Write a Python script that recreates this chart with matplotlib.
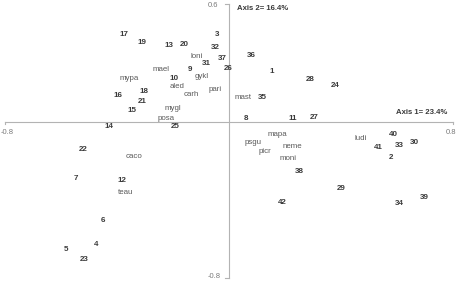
import matplotlib

matplotlib.use("Agg")
import matplotlib.pyplot as plt

# Site scores (numbered sampling sites)
site_labels = ["1", "2", "3", "4", "5", "6", "7", "8", "9", "10",
               "11", "12", "13", "14", "15", "16", "17", "18", "19", "20",
               "21", "22", "23", "24", "25", "26", "27", "28", "29", "30",
               "31", "32", "33", "34", "35", "36", "37", "38", "39", "40",
               "41", "42"]
site_x = [0.154, 0.579, -0.043, -0.475, -0.582, -0.450, -0.546, 0.061, -0.139, -0.196,
          0.229, -0.382, -0.214, -0.428, -0.346, -0.396, -0.375, -0.304, -0.311, -0.161,
          -0.311, -0.521, -0.518, 0.379, -0.193, -0.004, 0.304, 0.289, 0.400, 0.661,
          -0.082, -0.050, 0.607, 0.607, 0.118, 0.079, -0.025, 0.250, 0.696, 0.586,
          0.532, 0.189]
site_y = [0.259, -0.187, 0.444, -0.628, -0.654, -0.505, -0.290, 0.013, 0.269, 0.223,
          0.013, -0.300, 0.392, -0.028, 0.054, 0.131, 0.444, 0.156, 0.403, 0.397,
          0.105, -0.146, -0.705, 0.187, -0.028, 0.274, 0.023, 0.213, -0.341, -0.105,
          0.295, 0.377, -0.121, -0.418, 0.121, 0.336, 0.321, -0.254, -0.387, -0.069,
          -0.131, -0.413]

# Species scores
species_labels = ["mypa", "mael", "loni", "gykl", "aled", "pari", "carh", "mygl", "posa",
                  "mast", "mapa", "psgu", "neme", "picr", "moni", "ludi", "caco", "teau"]
species_x = [-0.357, -0.243, -0.114, -0.096, -0.186, -0.050, -0.136, -0.200, -0.225,
             0.050, 0.171, 0.086, 0.225, 0.129, 0.211, 0.471, -0.339, -0.371]
species_y = [0.218, 0.269, 0.331, 0.233, 0.177, 0.162, 0.141, 0.069, 0.018,
             0.121, -0.064, -0.110, -0.126, -0.156, -0.192, -0.085, -0.177, -0.362]

AXIS = "#b3b3b3"
TICK = "#7a7a7a"
SITE = "#3a3a3a"
SPEC = "#5a5a5a"

plt.rcParams["font.family"] = ["Liberation Sans", "DejaVu Sans"]

fig = plt.figure(figsize=(4.6, 2.92), dpi=100)
ax = fig.add_axes([0, 0, 1, 1])
ax.set_xlim(-0.818, 0.825)
ax.set_ylim(-0.874, 0.623)
ax.axis("off")

# axis lines with small end ticks
ax.plot([-0.8, 0.8], [0, 0], color=AXIS, lw=0.8)
ax.plot([0, 0], [-0.8, 0.6], color=AXIS, lw=0.8)
ax.plot([-0.8, -0.8], [0, -0.015], color=AXIS, lw=0.8)
ax.plot([0.8, 0.8], [0, -0.015], color=AXIS, lw=0.8)
ax.plot([0, -0.014], [0.6, 0.6], color=AXIS, lw=0.8)
ax.plot([0, -0.014], [-0.8, -0.8], color=AXIS, lw=0.8)

ax.text(-0.057, 0.595, "0.6", fontsize=5.5, color=TICK, ha="center", va="center")
ax.text(-0.054, -0.797, "-0.8", fontsize=5.5, color=TICK, ha="center", va="center")
ax.text(0.793, -0.054, "0.8", fontsize=5.5, color=TICK, ha="center", va="center")
ax.text(-0.816, -0.054, "-0.8", fontsize=5.5, color=TICK, ha="left", va="center")

ax.text(0.029, 0.577, "Axis 2= 16.4%", fontsize=5.6, color=SITE, weight="bold",
        ha="left", va="center")
ax.text(0.779, 0.044, "Axis 1= 23.4%", fontsize=5.6, color=SITE, weight="bold",
        ha="right", va="center")

for lab, x, y in zip(site_labels, site_x, site_y):
    ax.text(x, y, lab, fontsize=5.8, color=SITE, weight="bold", ha="center", va="center")

for lab, x, y in zip(species_labels, species_x, species_y):
    ax.text(x, y, lab, fontsize=5.7, color=SPEC, ha="center", va="center")

fig.savefig("out.png", dpi=100, facecolor="white")
